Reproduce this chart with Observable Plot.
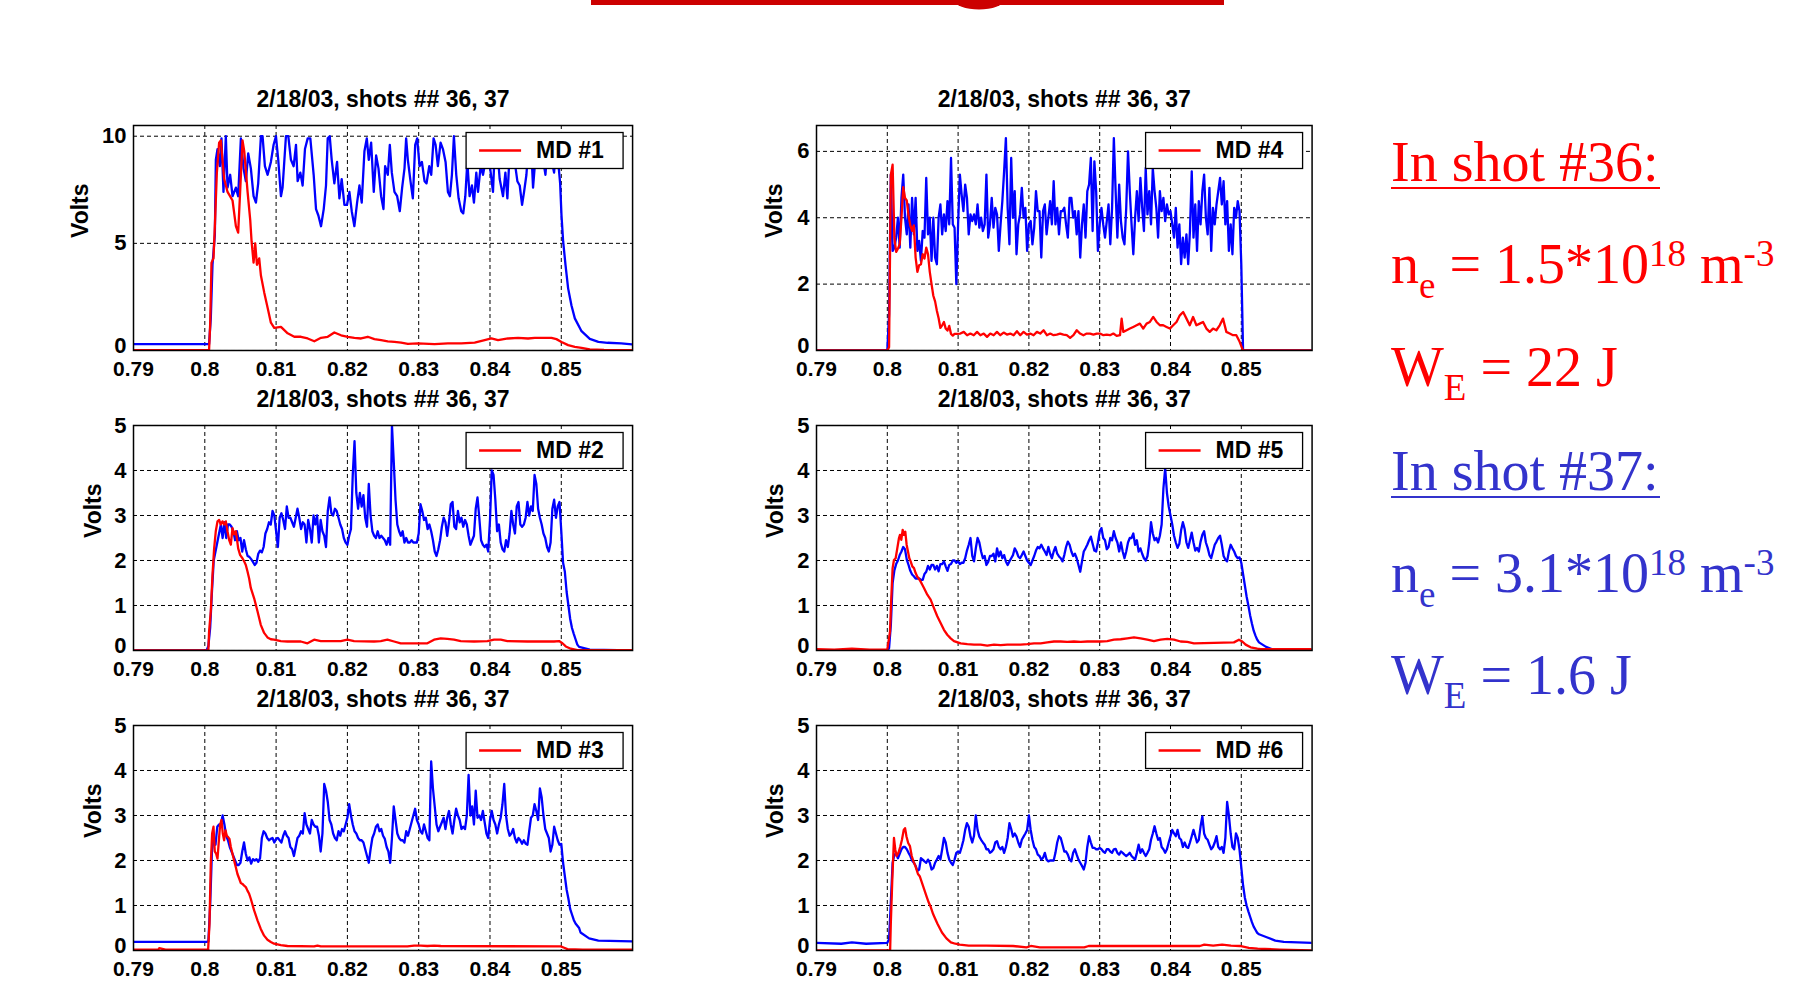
<!DOCTYPE html>
<html>
<head>
<meta charset="utf-8">
<script src="https://cdn.jsdelivr.net/npm/d3@7"></script>
<script src="https://cdn.jsdelivr.net/npm/@observablehq/plot@0.6"></script>
<style>
  html, body { margin: 0; padding: 0; background: #fff; }
  #page { position: relative; width: 1799px; height: 982px; overflow: hidden; background: #fff; }
  #page svg { position: absolute; }
</style>
</head>
<body>
<div id="page"></div>
<script>
// ---------------- shared axis values ----------------
const xTicks = [0.79, 0.80, 0.81, 0.82, 0.83, 0.84, 0.85];
const panelTitle = "2/18/03, shots ## 36, 37";
const probeNames = ["MD #1", "MD #2", "MD #3", "MD #4", "MD #5", "MD #6"];
const yTicksWide = [0, 5, 10];
const yTicksMid = [0, 2, 4, 6];
const yTicksLow = [0, 1, 2, 3, 4, 5];

// digitizer sample times (s) used by the shot #37 traces
const sampleTimes = [
  0.80025,0.8005,0.80075,0.801,0.80125,0.8015,0.80175,0.802,0.80225,0.8025,
  0.80275,0.803,0.80325,0.8035,0.80375,0.804,0.80425,0.8045,0.80475,0.805,
  0.80525,0.8055,0.80575,0.806,0.80625,0.8065,0.80675,0.807,0.80725,0.8075,
  0.80775,0.808,0.80825,0.8085,0.80875,0.809,0.80925,0.8095,0.80975,0.81,
  0.81025,0.8105,0.81075,0.811,0.81125,0.8115,0.81175,0.812,0.81225,0.8125,
  0.81275,0.813,0.81325,0.8135,0.81375,0.814,0.81425,0.8145,0.81475,0.815,
  0.81525,0.8155,0.81575,0.816,0.81625,0.8165,0.81675,0.817,0.81725,0.8175,
  0.81775,0.818,0.81825,0.8185,0.81875,0.819,0.81925,0.8195,0.81975,0.82,
  0.82025,0.8205,0.82075,0.821,0.82125,0.8215,0.82175,0.822,0.82225,0.8225,
  0.82275,0.823,0.82325,0.8235,0.82375,0.824,0.82425,0.8245,0.82475,0.825,
  0.82525,0.8255,0.82575,0.826,0.82625,0.8265,0.82675,0.827,0.82725,0.8275,
  0.82775,0.828,0.82825,0.8285,0.82875,0.829,0.82925,0.8295,0.82975,0.83,
  0.83025,0.8305,0.83075,0.831,0.83125,0.8315,0.83175,0.832,0.83225,0.8325,
  0.83275,0.833,0.83325,0.8335,0.83375,0.834,0.83425,0.8345,0.83475,0.835,
  0.83525,0.8355,0.83575,0.836,0.83625,0.8365,0.83675,0.837,0.83725,0.8375,
  0.83775,0.838,0.83825,0.8385,0.83875,0.839,0.83925,0.8395,0.83975,0.84,
  0.84025,0.8405,0.84075,0.841,0.84125,0.8415,0.84175,0.842,0.84225,0.8425,
  0.84275,0.843,0.84325,0.8435,0.84375,0.844,0.84425,0.8445,0.84475,0.845,
  0.84525,0.8455,0.84575,0.846,0.84625,0.8465,0.84675,0.847,0.84725,0.8475,
  0.84775,0.848,0.84825,0.8485,0.84875,0.849,0.84925,0.8495,0.84975,0.85,
  0.85025,0.8505,0.85075,0.851,0.85125,0.8515,0.85175,0.852,0.85225,0.8525
];

// ---------------- MD #1 (volts) ----------------
const md1Shot37 = [
  [0.79,0.3],[0.8006,0.3],[0.80084,1.5],[0.80108,4.0],[0.80141,5.4],[0.80155,8.9],[0.80178,9.4],[0.80211,8.6],[0.80234,9.9],[0.80262,7.4],
  [0.80295,10],[0.80319,7.6],[0.80356,8.2],[0.80389,7.2],[0.80436,7.6],[0.80468,7.2],[0.80506,9.9],[0.80543,8.5],[0.80576,7.9],[0.80609,9.2],
  [0.80646,8.5],[0.80684,7.2],[0.80717,6.9],[0.80749,7.8],[0.80787,10],[0.8081,10],[0.80843,8.6],[0.80881,8.2],[0.80927,8.8],[0.80965,9.6],
  [0.80998,10],[0.8103,8.9],[0.81068,7.2],[0.81091,7.6],[0.81138,10],[0.81171,10],[0.81208,8.9],[0.81246,8.6],[0.81279,9.6],[0.81302,7.9],
  [0.8134,8.3],[0.81372,7.7],[0.81405,9.4],[0.81443,9.9],[0.8148,9.9],[0.81527,8.2],[0.8156,6.6],[0.81593,6.3],[0.8163,5.8],[0.81668,6.6],
  [0.817,7.7],[0.81724,9.9],[0.81752,10],[0.8178,8.9],[0.81817,7.8],[0.81855,8.8],[0.81888,7.1],[0.8192,8.0],[0.81958,6.8],[0.81995,6.8],
  [0.82028,7.4],[0.82061,6.5],[0.82098,5.8],[0.82136,6.9],[0.82169,7.7],[0.82201,6.9],[0.82239,9.3],[0.82272,9.9],[0.823,8.9],[0.82333,9.7],
  [0.8237,7.4],[0.82403,9.1],[0.82436,8.5],[0.82473,7.2],[0.82506,6.6],[0.82529,8.6],[0.82567,8.2],[0.82595,9.6],[0.82623,8.3],[0.8266,7.4],
  [0.82698,7.2],[0.82735,6.5],[0.82768,7.6],[0.82801,8.5],[0.82824,9.9],[0.82848,8.9],[0.82885,7.9],[0.82918,7.1],[0.82951,9.6],[0.82979,9.9],
  [0.83012,8.6],[0.83045,8.8],[0.83082,7.9],[0.8311,7.8],[0.83148,8.6],[0.83176,8.2],[0.83209,9.9],[0.83237,9.6],[0.83269,8.6],[0.83307,9.7],
  [0.8334,9.4],[0.83377,8.8],[0.8341,7.4],[0.83438,7.2],[0.83466,8.2],[0.83494,10],[0.83527,8.2],[0.8356,7.1],[0.83597,6.5],[0.83625,6.4],
  [0.83654,7.2],[0.83682,8.8],[0.83714,7.2],[0.83747,7.7],[0.83775,6.9],[0.83808,8.3],[0.83832,7.4],[0.83869,8.6],[0.83902,8.2],[0.83935,8.8],
  [0.83972,9.3],[0.8401,8.3],[0.84042,7.4],[0.84075,10],[0.84103,9.4],[0.84136,8.0],[0.84183,7.2],[0.84216,8.3],[0.84244,7.1],[0.84277,9.3],
  [0.84309,10],[0.84347,8.8],[0.84384,7.9],[0.84417,7.7],[0.8445,6.8],[0.84478,7.4],[0.84511,8.2],[0.84534,9.3],[0.84572,9.9],[0.84604,7.6],
  [0.84628,8.6],[0.84675,9.6],[0.84712,9.3],[0.84745,8.9],[0.84778,8.2],[0.84815,9.9],[0.84862,8.9],[0.84899,8.3],[0.84932,9.7],[0.84965,8.5],
  [0.84984,7.8],[0.85003,6.3],[0.85026,5.1],[0.85059,4.0],[0.85096,2.9],[0.85143,2.1],[0.8519,1.5],[0.85284,0.9],[0.854,0.54],[0.8552,0.4],
  [0.8565,0.36],[0.8584,0.33],[0.86,0.28]
];
const md1Shot36 = [
  [0.79,0.02],[0.8006,0.02],[0.80075,1.2],[0.80094,4.1],[0.80122,4.3],[0.80141,5.8],[0.80169,8.3],[0.80201,9.7],[0.80225,9.8],[0.80248,8.9],
  [0.80272,8.0],[0.80319,7.4],[0.80389,7.0],[0.80436,5.8],[0.80468,5.5],[0.80497,7.5],[0.80529,9.8],[0.80553,9.3],[0.806,7.4],[0.80637,6.1],
  [0.80656,5.1],[0.80684,4.1],[0.80707,5.0],[0.80731,4.0],[0.80763,4.3],[0.80787,3.5],[0.80834,2.7],[0.80881,2.0],[0.80927,1.3],[0.80974,1.06],
  [0.81068,1.1],[0.81162,0.8],[0.81255,0.64],[0.81349,0.64],[0.81443,0.56],[0.81536,0.43],[0.8163,0.59],[0.81724,0.64],[0.81817,0.84],[0.81911,0.71],
  [0.82005,0.64],[0.82098,0.59],[0.82192,0.56],[0.82286,0.64],[0.82379,0.53],[0.82473,0.48],[0.82567,0.43],[0.8266,0.4],[0.82754,0.37],[0.82848,0.31],
  [0.82988,0.33],[0.83222,0.3],[0.8341,0.33],[0.83597,0.33],[0.83785,0.37],[0.83925,0.48],[0.84019,0.56],[0.84113,0.48],[0.84253,0.56],[0.84394,0.59],
  [0.84534,0.56],[0.84628,0.59],[0.84768,0.59],[0.84862,0.59],[0.84932,0.53],[0.85003,0.4],[0.85096,0.25],[0.8519,0.17],[0.85284,0.12],[0.854,0.05],
  [0.856,0.03],[0.86,0.02]
];

// ---------------- MD #2 ----------------
const md2Shot37Head = [[0.79,0],[0.8,0]];
const md2Shot37 = [
  0,0.1,0.5,1.3,2.0,2.2,2.4,2.6,2.8,2.5,
  2.85,2.5,2.8,2.8,2.75,2.65,2.45,2.65,2.45,2.5,
  2.2,2.45,2.25,2.1,2.08,2.03,1.97,1.9,1.95,2.15,
  2.22,2.18,2.3,2.6,2.7,2.85,2.8,3.1,3.0,2.65,
  2.3,2.95,3.05,2.9,2.7,3.2,2.95,2.95,2.85,2.75,
  2.95,3.15,2.95,2.7,2.85,2.8,2.4,2.9,2.7,2.4,
  3.0,2.8,3.0,2.4,2.9,2.65,2.55,2.3,3.1,3.4,
  3.05,3.0,3.15,3.1,2.95,2.8,2.7,2.5,2.4,2.35,
  2.55,2.7,3.9,4.65,3.5,3.15,3.5,3.2,3.45,2.95,
  2.75,3.7,3.0,2.65,2.55,2.5,2.65,2.5,2.55,2.5,
  2.45,2.35,2.5,2.35,5.0,4.2,3.35,2.8,2.65,2.55,
  2.65,2.4,2.5,2.4,2.4,2.45,2.4,2.4,2.4,2.6,
  3.25,3.1,2.9,2.95,2.7,2.8,2.65,2.45,2.2,2.1,
  2.25,2.45,2.75,2.95,2.85,2.55,2.85,3.25,3.3,2.75,
  2.7,3.1,2.85,2.95,2.75,2.9,2.8,2.55,2.35,2.45,
  2.55,3.15,3.4,2.95,2.45,2.35,2.3,2.35,2.2,2.9,
  4.0,3.9,3.35,2.65,2.8,2.4,2.25,2.2,2.45,2.3,
  2.6,3.1,2.8,2.6,3.2,3.3,2.8,2.75,2.8,2.95,
  3.3,3.0,3.2,3.1,3.9,3.7,3.15,2.95,2.8,2.6,
  2.5,2.3,2.2,2.4,3.15,3.35,2.95,3.2,3.3,2.65,
  1.95,1.75,1.3,1.0,0.7,0.5,0.37,0.25,0.13,0.08
];
const md2Shot37Tail = [[0.854,0.02],[0.86,0]];
const md2Shot36 = [
  [0.79,0],[0.8005,0],[0.8006,0.42],[0.80084,0.87],[0.80108,1.68],[0.80131,2.27],[0.80154,2.65],[0.80178,2.87],[0.80201,2.9],[0.80224,2.8],
  [0.80248,2.87],[0.80271,2.8],[0.80295,2.87],[0.80318,2.65],[0.80341,2.46],[0.80365,2.35],[0.80388,2.72],[0.80411,2.58],[0.80435,2.65],[0.80449,2.5],
  [0.80468,2.27],[0.80496,2.12],[0.80528,2.05],[0.80552,1.98],[0.80575,1.9],[0.80598,1.76],[0.80622,1.6],[0.80645,1.39],[0.80692,1.16],[0.80739,0.87],
  [0.80785,0.57],[0.80832,0.39],[0.80879,0.29],[0.80926,0.25],[0.80972,0.24],[0.81066,0.21],[0.81159,0.2],[0.81346,0.2],[0.8144,0.16],[0.81533,0.24],
  [0.81627,0.21],[0.81907,0.21],[0.82,0.24],[0.82094,0.21],[0.82374,0.2],[0.82468,0.21],[0.82561,0.24],[0.82655,0.2],[0.82748,0.16],[0.83122,0.16],
  [0.83215,0.24],[0.83309,0.27],[0.83402,0.26],[0.83496,0.24],[0.8359,0.21],[0.83777,0.2],[0.83964,0.21],[0.84057,0.24],[0.84151,0.24],[0.84244,0.21],
  [0.84525,0.2],[0.84899,0.2],[0.84969,0.21],[0.85016,0.16],[0.85063,0.09],[0.85133,0.04],[0.85227,0.01],[0.86,0.01]
];

// ---------------- MD #3 ----------------
const md3Shot37Head = [[0.79,0.19],[0.8,0.19]];
const md3Shot37 = [
  0.19,0.2,1.0,2.2,2.5,2.35,2.75,2.8,2.8,3.0,
  2.8,2.55,2.45,2.3,2.2,2.1,2.0,1.9,1.9,1.95,
  2.2,2.4,2.15,2.0,2.07,1.93,2.03,2.0,2.03,1.97,
  2.05,2.5,2.65,2.6,2.5,2.45,2.48,2.5,2.4,2.48,
  2.5,2.45,2.4,2.55,2.65,2.55,2.5,2.3,2.25,2.1,
  2.3,2.5,2.55,2.65,2.6,3.05,2.8,2.7,2.6,2.9,
  2.8,2.75,2.75,2.55,2.2,2.6,3.7,3.55,3.3,2.9,
  2.8,2.6,2.5,2.45,2.65,2.55,2.7,2.65,2.8,2.95,
  3.25,3.0,2.8,2.65,2.6,2.5,2.45,2.45,2.4,2.25,
  2.1,1.95,2.25,2.5,2.6,2.75,2.8,2.65,2.7,2.55,
  2.48,2.3,2.2,1.95,2.5,3.2,2.9,2.6,2.5,2.45,
  2.45,2.4,2.65,2.55,2.7,2.85,3.0,3.15,2.9,2.8,
  2.65,2.6,2.8,2.65,2.5,2.45,4.2,3.6,3.2,2.8,
  2.65,2.75,2.85,2.95,2.7,2.95,3.1,2.8,2.6,2.9,
  3.15,3.0,2.9,2.7,2.75,2.7,3.0,3.9,3.0,3.2,
  2.8,3.55,2.95,3.0,2.9,3.1,2.85,2.6,2.5,2.9,
  3.1,2.9,2.8,2.6,2.8,2.95,3.25,3.7,3.0,2.7,
  2.55,2.6,2.7,2.5,2.4,2.5,2.45,2.37,2.45,2.37,
  2.35,2.65,2.95,3.0,3.25,3.1,2.9,3.6,3.4,3.0,
  2.7,2.6,2.5,2.2,2.35,2.75,2.6,2.45,2.35,2.37,
  1.95,1.65,1.35,1.15,0.92,0.8,0.68,0.6,0.55,0.5
];
const md3Shot37Tail = [[0.8527,0.4],[0.8539,0.27],[0.8552,0.22],[0.86,0.2]];
const md3Shot36 = [
  [0.79,0.02],[0.7935,0.02],[0.7936,0.05],[0.7945,0.02],[0.8005,0.02],[0.80047,0.03],[0.80066,0.6],[0.80084,1.93],[0.80103,2.6],[0.80122,2.75],
  [0.8014,2.2],[0.80159,2.15],[0.80178,2.04],[0.80201,2.52],[0.80215,2.8],[0.80234,2.9],[0.80252,2.6],[0.80271,2.45],[0.8029,2.67],[0.80308,2.55],
  [0.80327,2.52],[0.80346,2.48],[0.80365,2.3],[0.80388,2.15],[0.80411,2.0],[0.80435,1.85],[0.80458,1.7],[0.80482,1.6],[0.80505,1.5],[0.80528,1.48],
  [0.80552,1.44],[0.80575,1.41],[0.80598,1.33],[0.80622,1.26],[0.80645,1.15],[0.80692,0.89],[0.80739,0.67],[0.80785,0.48],[0.80832,0.33],[0.80879,0.24],
  [0.80926,0.19],[0.80972,0.15],[0.81066,0.12],[0.81159,0.1],[0.81533,0.09],[0.8158,0.11],[0.81627,0.09],[0.82842,0.09],[0.82935,0.11],[0.83029,0.11],
  [0.83122,0.1],[0.83216,0.11],[0.8331,0.1],[0.84993,0.09],[0.8504,0.06],[0.85087,0.03],[0.853,0.02],[0.86,0.02]
];

// ---------------- MD #4 ----------------
const md4Shot37Head = [[0.79,0],[0.8,0]];
const md4Shot37 = [
  1.1,5.3,3.0,3.1,3.4,4.0,3.1,4.6,5.3,4.0,
  3.5,4.4,3.1,4.6,3.5,4.6,3.0,3.3,2.7,3.6,
  3.4,5.2,3.5,4.0,2.7,4.0,2.8,2.6,4.0,4.4,
  3.5,4.1,3.6,4.5,3.8,5.8,3.8,3.7,2.0,3.8,
  5.3,4.7,4.2,5.0,4.6,3.5,4.1,3.9,4.1,3.8,
  4.4,3.7,4.0,3.6,3.8,5.3,3.4,3.8,4.6,3.7,
  4.3,4.1,3.0,3.8,4.5,5.4,6.4,4.3,3.2,5.8,
  4.0,4.8,2.9,3.8,4.1,4.9,4.0,4.3,3.0,3.8,
  3.9,3.2,3.7,4.8,4.2,4.2,2.8,4.2,4.4,3.5,
  4.0,4.5,3.8,5.1,3.8,4.3,3.5,4.2,4.2,4.3,
  3.8,3.4,4.6,4.6,4.0,4.2,3.5,4.2,2.8,3.8,
  4.4,3.4,4.8,5.0,5.8,3.6,5.7,4.8,3.0,3.8,
  4.3,3.8,3.4,3.9,4.4,3.2,4.3,6.4,4.8,3.4,
  5.0,3.9,3.4,3.2,4.3,6.0,4.8,3.8,2.9,4.0,
  4.8,3.9,5.2,4.3,3.6,5.5,4.1,4.8,3.8,5.5,
  4.8,4.3,3.4,4.8,4.2,4.6,3.9,4.4,4.1,4.2,
  3.8,3.4,4.3,3.1,3.8,2.6,3.4,2.8,3.5,2.6,
  3.6,5.4,3.4,4.4,3.0,4.5,3.8,4.8,5.3,4.0,
  3.5,4.9,3.0,4.3,3.8,4.4,4.8,5.2,4.4,5.1,
  3.8,4.5,3.0,3.8,2.9,4.3,4.0,4.5,4.2,2.6,
  0,0,0,0,0,0,0,0,0,0
];
const md4Shot37Tail = [[0.86,0]];
const md4Shot36 = [
  [0.79,0],[0.8,0],[0.80025,0.1],[0.8005,5.3],[0.80075,5.6],[0.801,3.4],[0.80125,2.97],[0.8015,3.07],[0.80175,3.2],[0.802,4.0],
  [0.80225,4.92],[0.8025,4.6],[0.80275,4.52],[0.803,4.07],[0.80325,3.77],[0.8035,3.6],[0.80375,3.77],[0.804,2.8],[0.80425,2.37],[0.8045,2.57],
  [0.80475,2.6],[0.805,2.9],[0.80525,2.77],[0.8055,3.1],[0.80575,2.9],[0.806,2.37],[0.80625,2.0],[0.8065,1.65],[0.80675,1.48],[0.807,1.2],
  [0.80725,0.97],[0.8075,0.68],[0.80775,0.76],[0.808,0.86],[0.80825,0.66],[0.8085,0.6],[0.80875,0.74],[0.809,0.5],[0.80925,0.45],[0.8095,0.5],
  [0.80975,0.5],[0.81033,0.51],[0.8108,0.56],[0.81127,0.46],[0.81174,0.51],[0.81221,0.46],[0.81268,0.56],[0.81315,0.46],[0.81362,0.51],[0.81409,0.41],
  [0.81455,0.51],[0.81502,0.46],[0.81549,0.56],[0.81596,0.46],[0.81643,0.54],[0.8169,0.48],[0.81737,0.51],[0.81784,0.46],[0.81831,0.58],[0.81878,0.46],
  [0.81925,0.56],[0.81972,0.48],[0.82019,0.51],[0.82066,0.46],[0.82113,0.56],[0.8216,0.51],[0.82207,0.61],[0.82254,0.46],[0.82301,0.51],[0.82348,0.46],
  [0.82394,0.48],[0.82441,0.51],[0.82488,0.48],[0.82535,0.46],[0.82582,0.38],[0.82629,0.46],[0.82676,0.61],[0.82723,0.51],[0.8277,0.46],[0.82817,0.51],
  [0.82864,0.51],[0.82911,0.48],[0.82958,0.51],[0.83005,0.51],[0.83052,0.46],[0.83099,0.48],[0.83146,0.46],[0.83193,0.51],[0.8324,0.44],[0.83287,0.46],
  [0.8331,0.96],[0.83333,0.56],[0.8338,0.61],[0.83427,0.66],[0.83474,0.71],[0.83521,0.76],[0.83568,0.81],[0.83615,0.66],[0.83662,0.81],[0.83709,0.86],
  [0.83756,1.01],[0.83803,0.86],[0.8385,0.76],[0.83897,0.76],[0.83944,0.71],[0.83991,0.66],[0.84038,0.76],[0.84085,0.86],[0.84132,1.06],[0.84179,1.16],
  [0.84226,0.96],[0.84272,0.76],[0.84319,1.01],[0.84366,0.76],[0.84413,0.81],[0.8446,0.86],[0.84507,0.66],[0.84554,0.56],[0.84601,0.66],[0.84648,0.61],
  [0.84695,0.76],[0.84742,0.96],[0.84789,0.56],[0.84836,0.51],[0.84883,0.46],[0.8493,0.46],[0.84977,0.26],[0.85024,0],[0.86,0]
];

// ---------------- MD #5 ----------------
const md5Shot37Head = [[0.79,0],[0.8,0]];
const md5Shot37 = [
  0.05,0.57,1.5,1.78,1.92,2.0,2.12,2.2,2.3,2.25,
  2.02,1.9,1.77,1.69,1.65,1.6,1.6,1.6,1.57,1.57,
  1.7,1.75,1.88,1.8,1.9,1.9,1.8,1.88,1.76,1.92,
  1.92,1.98,1.87,1.77,1.9,1.92,2.0,2.0,1.95,1.98,
  1.92,1.95,1.95,2.05,2.22,2.35,2.5,2.1,1.98,2.27,
  2.5,2.4,2.2,2.05,2.1,1.9,1.97,2.1,2.1,2.15,
  1.98,2.27,2.09,2.2,2.05,2.12,1.98,1.9,1.98,2.05,
  2.12,2.27,2.2,2.09,2.05,2.12,2.2,2.1,2.0,1.95,
  1.9,2.0,2.1,2.22,2.3,2.27,2.35,2.27,2.2,2.12,
  2.3,2.15,2.05,2.2,2.3,2.15,2.09,2.05,1.98,2.12,
  2.3,2.42,2.35,2.2,2.1,2.15,2.05,1.9,1.75,1.98,
  2.2,2.27,2.35,2.45,2.53,2.37,2.22,2.2,2.4,2.65,
  2.72,2.5,2.45,2.25,2.3,2.5,2.45,2.65,2.5,2.4,
  2.2,2.4,2.2,2.05,2.2,2.4,2.5,2.5,2.6,2.35,
  2.45,2.2,2.27,2.15,2.05,2.0,2.1,2.4,2.85,2.6,
  2.45,2.5,2.4,2.55,2.8,3.6,4.05,3.5,3.2,3.0,
  2.8,2.55,2.4,2.28,2.37,2.67,2.85,2.7,2.4,2.28,
  2.45,2.62,2.4,2.22,2.28,2.2,2.42,2.57,2.65,2.4,
  2.28,2.12,2.05,2.2,2.35,2.42,2.5,2.55,2.35,2.1,
  2.02,1.98,2.2,2.35,2.27,2.2,2.1,2.05,2.07,1.95,
  1.7,1.45,1.2,1.0,0.78,0.6,0.44,0.33,0.24,0.18
];
const md5Shot37Tail = [[0.8535,0.08],[0.8545,0.02],[0.86,0]];
const md5Shot36 = [
  [0.79,0.03],[0.7925,0.02],[0.795,0.04],[0.7975,0.02],[0.8,0.02],[0.80038,0.42],[0.80056,1.16],[0.80075,1.83],[0.80094,2.01],[0.80118,2.05],
  [0.80141,2.27],[0.80165,2.5],[0.80179,2.57],[0.80198,2.46],[0.80217,2.68],[0.80235,2.57],[0.80254,2.64],[0.80273,2.35],[0.80292,2.2],[0.80311,2.05],
  [0.8033,1.98],[0.80353,1.87],[0.80377,1.83],[0.804,1.72],[0.80424,1.64],[0.80447,1.59],[0.80471,1.53],[0.80494,1.46],[0.80518,1.39],[0.80565,1.24],
  [0.80612,1.13],[0.80659,0.94],[0.80706,0.76],[0.80753,0.61],[0.808,0.46],[0.80847,0.35],[0.80895,0.27],[0.80942,0.21],[0.81036,0.16],[0.8113,0.14],
  [0.81224,0.13],[0.81318,0.13],[0.81412,0.11],[0.81507,0.13],[0.81601,0.12],[0.81695,0.13],[0.81883,0.13],[0.81977,0.14],[0.82072,0.16],[0.82166,0.16],
  [0.8226,0.18],[0.82354,0.2],[0.82448,0.2],[0.82542,0.19],[0.82636,0.2],[0.82731,0.19],[0.82825,0.2],[0.83013,0.2],[0.83107,0.21],[0.83201,0.24],
  [0.83296,0.25],[0.8339,0.27],[0.83484,0.29],[0.83578,0.27],[0.83672,0.24],[0.83766,0.21],[0.8386,0.24],[0.83955,0.26],[0.84049,0.24],[0.84143,0.2],
  [0.84237,0.19],[0.84331,0.16],[0.84896,0.18],[0.84967,0.24],[0.85014,0.2],[0.85061,0.13],[0.85132,0.07],[0.85226,0.04],[0.85273,0.03],[0.86,0.03]
];

// ---------------- MD #6 ----------------
const md6Shot37Head = [[0.79,0.17],[0.7935,0.15],[0.795,0.18],[0.797,0.15],[0.8,0.17]];
const md6Shot37 = [
  0.25,1.07,1.95,2.13,2.15,2.05,2.15,2.25,2.3,2.3,
  2.25,2.17,2.1,2.0,1.95,1.88,1.77,1.8,2.05,2.02,
  1.98,1.95,2.02,1.95,1.8,1.83,1.95,2.02,2.1,2.02,
  2.25,2.5,2.4,2.17,2.02,1.95,1.9,2.02,2.17,2.2,
  2.17,2.3,2.45,2.68,2.83,2.75,2.53,2.4,2.55,3.0,
  2.68,2.53,2.46,2.4,2.35,2.25,2.25,2.17,2.2,2.25,
  2.4,2.43,2.3,2.25,2.3,2.17,2.3,2.5,2.83,2.7,
  2.53,2.6,2.53,2.4,2.3,2.46,2.53,2.6,2.68,3.0,
  2.68,2.46,2.3,2.25,2.13,2.1,2.02,2.06,2.17,2.02,
  1.98,2.0,2.0,2.0,2.17,2.4,2.54,2.5,2.35,2.2,
  2.2,2.13,2.02,1.98,2.17,2.25,2.13,2.02,1.95,1.88,
  1.8,1.95,2.3,2.54,2.4,2.28,2.28,2.25,2.25,2.28,
  2.25,2.2,2.17,2.25,2.25,2.2,2.17,2.25,2.26,2.17,
  2.13,2.2,2.17,2.13,2.1,2.13,2.17,2.1,2.06,2.02,
  2.17,2.35,2.17,2.25,2.17,2.1,2.17,2.25,2.46,2.6,
  2.76,2.6,2.46,2.5,2.3,2.25,2.17,2.25,2.4,2.54,
  2.68,2.6,2.54,2.68,2.5,2.46,2.3,2.4,2.3,2.28,
  2.4,2.54,2.68,2.54,2.4,2.46,2.76,2.98,2.6,2.5,
  2.46,2.35,2.25,2.3,2.4,2.54,2.3,2.25,2.3,2.17,
  2.5,3.3,3.0,2.6,2.3,2.25,2.6,2.5,2.24,1.85,
  1.45,1.18,1.0,0.87,0.75,0.63,0.53,0.46,0.39,0.36
];
const md6Shot37Tail = [[0.8535,0.3],[0.8548,0.22],[0.856,0.19],[0.86,0.17]];
const md6Shot36 = [
  [0.79,0],[0.8004,0],[0.8005,0.63],[0.80069,1.5],[0.80094,2.5],[0.80113,2.24],[0.80132,2.1],[0.80157,2.17],[0.80182,2.3],[0.80207,2.46],
  [0.80232,2.68],[0.80251,2.72],[0.8027,2.54],[0.80295,2.39],[0.8032,2.32],[0.80345,2.1],[0.8037,1.98],[0.80396,1.88],[0.80433,1.7],[0.80458,1.65],
  [0.8049,1.5],[0.80521,1.36],[0.80553,1.21],[0.80584,1.07],[0.80615,0.96],[0.80647,0.81],[0.80678,0.7],[0.8071,0.59],[0.80772,0.4],[0.80835,0.27],
  [0.80898,0.18],[0.80961,0.15],[0.81024,0.13],[0.81149,0.11],[0.814,0.11],[0.81777,0.1],[0.81966,0.07],[0.82028,0.1],[0.82154,0.07],[0.82782,0.07],
  [0.82845,0.1],[0.84415,0.1],[0.84478,0.13],[0.84603,0.11],[0.84729,0.13],[0.84854,0.11],[0.8498,0.1],[0.85106,0.06],[0.85231,0.04],[0.85545,0.02],
  [0.86,0]
];

// ---------------- side notes ----------------
const shotNotes = [
  {shot: 36, density: "1.5", energy: "22", color: "#ff0000"},
  {shot: 37, density: "3.1", energy: "1.6", color: "#3333cc"}
];

// ---------------- helpers ----------------
const toRows = pairs => pairs.map(([t, v]) => ({t, v}));
const onSamples = (head, values, tail) =>
  toRows([...head, ...values.map((v, i) => [sampleTimes[i], v]), ...tail]);

const panels = [
  {name: probeNames[0], col: 0, row: 0, yMax: 10.5, yTicks: yTicksWide, labelGap: 53,
   shot37: toRows(md1Shot37), shot36: toRows(md1Shot36)},
  {name: probeNames[1], col: 0, row: 1, yMax: 5, yTicks: yTicksLow, labelGap: 40,
   shot37: onSamples(md2Shot37Head, md2Shot37, md2Shot37Tail), shot36: toRows(md2Shot36)},
  {name: probeNames[2], col: 0, row: 2, yMax: 5, yTicks: yTicksLow, labelGap: 40,
   shot37: onSamples(md3Shot37Head, md3Shot37, md3Shot37Tail), shot36: toRows(md3Shot36)},
  {name: probeNames[3], col: 1, row: 0, yMax: 6.78, yTicks: yTicksMid, labelGap: 42,
   shot37: onSamples(md4Shot37Head, md4Shot37, md4Shot37Tail), shot36: toRows(md4Shot36)},
  {name: probeNames[4], col: 1, row: 1, yMax: 5, yTicks: yTicksLow, labelGap: 41,
   shot37: onSamples(md5Shot37Head, md5Shot37, md5Shot37Tail), shot36: toRows(md5Shot36)},
  {name: probeNames[5], col: 1, row: 2, yMax: 5, yTicks: yTicksLow, labelGap: 41,
   shot37: onSamples(md6Shot37Head, md6Shot37, md6Shot37Tail), shot36: toRows(md6Shot36)}
];

// ---------------- layout ----------------
const colFrames = [{left: 132.7, right: 631.8}, {left: 815.9, right: 1311.5}];
const rowTops = [125, 424.7, 725.3];
const frameH = 225;
const mL = 120, mR = 20, mT = 50, mB = 45;
const sansFont = "'Liberation Sans', Arial, Helvetica, sans-serif";
const serifFont = "'Liberation Serif', 'Times New Roman', Times, serif";
const fmtX = d => String(Math.round(d * 100) / 100);
const fmtY = d => String(d);

const page = d3.select("#page");

// slide banner remnant along the top edge
const deco = page.append("svg")
  .attr("width", 1799).attr("height", 982)
  .style("left", "0px").style("top", "0px");
deco.append("rect").attr("x", 591).attr("y", 0).attr("width", 633).attr("height", 5).attr("fill", "#cc0000");
deco.append("ellipse").attr("cx", 979).attr("cy", 0).attr("rx", 24.5).attr("ry", 9.5).attr("fill", "#cc0000");

// per-probe panels
for (const p of panels) {
  const f = colFrames[p.col];
  const frameW = f.right - f.left;
  const chart = Plot.plot({
    width: frameW + mL + mR,
    height: frameH + mT + mB,
    marginLeft: mL, marginRight: mR, marginTop: mT, marginBottom: mB,
    style: {fontFamily: sansFont, fontSize: "22px", fontWeight: "bold", color: "black",
            background: "transparent", overflow: "visible"},
    x: {domain: [0.79, 0.86], axis: null},
    y: {domain: [0, p.yMax], axis: null},
    marks: [
      Plot.gridX(xTicks, {stroke: "black", strokeOpacity: 1, strokeWidth: 1, strokeDasharray: "4,3"}),
      Plot.gridY(p.yTicks, {stroke: "black", strokeOpacity: 1, strokeWidth: 1, strokeDasharray: "4,3"}),
      Plot.line(p.shot37, {x: "t", y: "v", stroke: "#0000ff", strokeWidth: 2.3, clip: true}),
      Plot.line(p.shot36, {x: "t", y: "v", stroke: "#ff0000", strokeWidth: 2.3, clip: true}),
      Plot.frame({stroke: "black", strokeWidth: 1.5}),
      Plot.axisX(xTicks, {tickSize: 0, tickPadding: 11, fontSize: 21, tickFormat: fmtX, label: null}),
      // the zero label sits a little high so it clears the time labels in the corner
      Plot.axisY(p.yTicks.filter(d => d > 0), {tickSize: 0, tickPadding: 7, tickFormat: fmtY, label: null}),
      Plot.axisY([0], {tickSize: 0, tickPadding: 7, dy: -5, tickFormat: fmtY, label: null}),
      Plot.text([panelTitle], {text: d => d, frameAnchor: "top", dy: -18, lineAnchor: "bottom",
                               fontSize: 23, fontWeight: "bold"}),
      Plot.text(["Volts"], {text: d => d, frameAnchor: "left", rotate: -90, dx: -p.labelGap,
                            lineAnchor: "middle", fontSize: 23, fontWeight: "bold"})
    ]
  });
  chart.style.position = "absolute";
  chart.style.left = (f.left - mL) + "px";
  chart.style.top = (rowTops[p.row] - mT) + "px";

  // legend box for the shot #36 trace
  const lw = 157, lh = 36;
  const lx = mL + frameW - 9 - lw, ly = mT + 7.5;
  const g = d3.select(chart).append("g");
  g.append("rect").attr("x", lx).attr("y", ly).attr("width", lw).attr("height", lh)
    .attr("fill", "white").attr("stroke", "black").attr("stroke-width", 1.3);
  g.append("line").attr("x1", lx + 13).attr("x2", lx + 55).attr("y1", ly + 18).attr("y2", ly + 18)
    .attr("stroke", "#ff0000").attr("stroke-width", 2.5);
  g.append("text").attr("x", lx + 70).attr("y", ly + 26)
    .attr("text-anchor", "start")
    .attr("font-family", sansFont).attr("font-size", 23).attr("font-weight", "bold")
    .attr("fill", "black").text(p.name);

  page.node().appendChild(chart);
}

// shot summaries on the right
const notesX = 1391;
const noteBaselines = [[181, 282.6, 386], [490, 591.7, 694]];
shotNotes.forEach((n, i) => {
  const [b1, b2, b3] = noteBaselines[i];
  const txt = (y) => deco.append("text").attr("x", notesX).attr("y", y)
    .attr("font-family", serifFont).attr("font-size", 56).attr("fill", n.color)
    .style("white-space", "pre");
  txt(b1).text(`In shot #${n.shot}:`);
  deco.append("rect").attr("x", notesX).attr("y", b1 + 6).attr("width", 269).attr("height", 2).attr("fill", n.color);

  const l2 = txt(b2);
  l2.append("tspan").text("n");
  l2.append("tspan").attr("font-size", 37).attr("dy", 15.5).text("e");
  l2.append("tspan").attr("font-size", 56).attr("dy", -15.5).text(` = ${n.density}*10`);
  l2.append("tspan").attr("font-size", 37).attr("dy", -17).text("18");
  l2.append("tspan").attr("font-size", 56).attr("dy", 17).text(" m");
  l2.append("tspan").attr("font-size", 37).attr("dy", -17).text("-3");

  const l3 = txt(b3);
  l3.append("tspan").text("W");
  l3.append("tspan").attr("font-size", 37).attr("dy", 13.6).text("E");
  l3.append("tspan").attr("font-size", 56).attr("dy", -13.6).text(` = ${n.energy} J`);
});
</script>
</body>
</html>
